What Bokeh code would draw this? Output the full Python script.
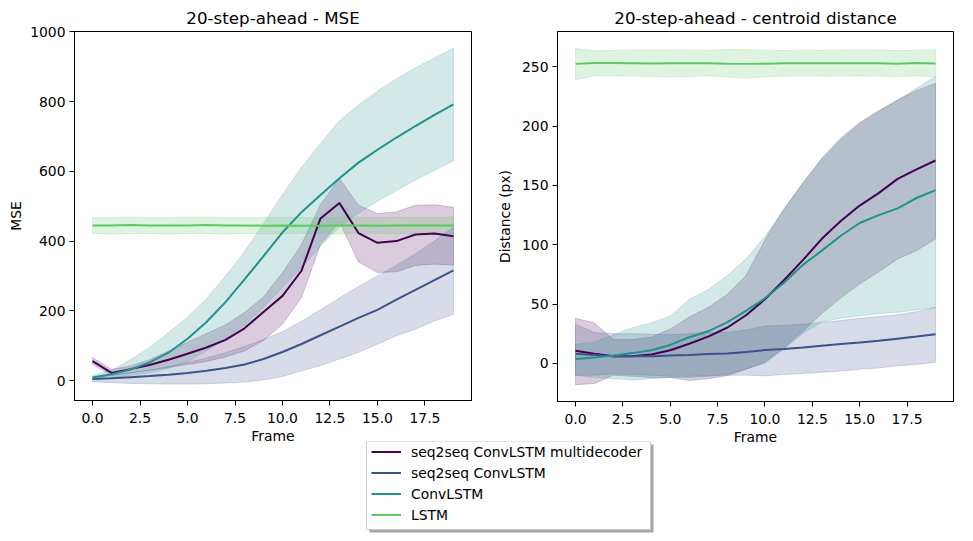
from bokeh.plotting import figure
from bokeh.layouts import column, row
from bokeh.models import Range1d, FixedTicker, Legend, LegendItem, NumeralTickFormatter
from bokeh.embed import file_html
from bokeh.resources import INLINE

FONT = "DejaVu Sans"
FS = "13.9px"

frames = list(range(20))
series_names = ["seq2seq ConvLSTM multidecoder", "seq2seq ConvLSTM", "ConvLSTM", "LSTM"]
colors = ["#440154", "#3b528b", "#21918c", "#5ec962"]

# ---------- 20-step-ahead MSE ----------
mse_md_mean = [56, 22, 33, 45, 60, 77, 95, 117, 150, 197, 243, 315, 465, 509, 423, 395, 400, 419, 422, 414]
mse_md_lo = [47, 15, 22, 30, 38, 46, 55, 68, 85, 115, 162, 238, 390, 455, 340, 310, 312, 330, 334, 331]
mse_md_hi = [66, 32, 42, 60, 85, 110, 135, 160, 195, 240, 310, 390, 505, 580, 503, 479, 484, 503, 504, 497]

mse_s2s_mean = [5, 7, 10, 13, 17, 22, 28, 36, 46, 62, 82, 105, 130, 155, 180, 203, 232, 260, 288, 316]
mse_s2s_lo = [-3, -6, -8, -9, -10, -10, -9, -7, -4, 2, 12, 28, 43, 62, 81, 105, 129, 148, 171, 190]
mse_s2s_hi = [10, 15, 22, 30, 40, 52, 65, 80, 98, 118, 140, 170, 203, 237, 270, 300, 331, 364, 401, 440]

mse_conv_mean = [9, 18, 32, 52, 80, 120, 168, 225, 290, 357, 425, 483, 532, 580, 625, 662, 697, 730, 762, 792]
mse_conv_lo = [3, 8, 15, 22, 35, 55, 85, 120, 160, 210, 267, 324, 385, 440, 480, 514, 545, 575, 603, 630]
mse_conv_hi = [15, 30, 60, 95, 138, 182, 235, 300, 370, 450, 533, 612, 680, 745, 790, 830, 865, 897, 925, 953]

mse_lstm_mean = [445, 445, 446, 445, 445, 445, 446, 445, 445, 444, 445, 444, 444, 445, 445, 444, 445, 445, 445, 445]
mse_lstm_lo = [422, 421, 422, 422, 421, 422, 422, 421, 422, 421, 421, 422, 422, 421, 421, 422, 421, 421, 422, 421]
mse_lstm_hi = [468, 468, 469, 468, 468, 469, 469, 468, 468, 468, 468, 468, 467, 468, 468, 468, 469, 468, 468, 469]

# ---------- 20-step-ahead centroid distance ----------
dist_md_mean = [10.5, 8, 6, 6, 7.5, 11, 16.5, 22.5, 30, 40.5, 54, 70, 87, 105, 120, 133, 143.5, 155.5, 163.5, 171]
dist_md_lo = [-18, -17, -10, -11, -12, -12, -14.5, -13, -10.5, -5, 1, 13, 27, 42, 55, 67, 77, 88, 95, 105]
dist_md_hi = [38, 34, 20, 20, 22, 29, 39, 47, 58, 74, 104, 130, 152, 173, 190, 203, 213, 222, 230, 236]

dist_s2s_mean = [8, 7, 6, 6, 6, 6.5, 7, 7.8, 8.3, 9.5, 11.2, 12, 13.3, 14.8, 16.2, 17.5, 19, 20.8, 22.6, 24.5]
dist_s2s_lo = [-10, -10, -9, -9.5, -10, -11, -11, -10.5, -10, -10, -10.5, -9.5, -8.5, -7.5, -6.5, -5, -4, -2, -1, 1]
dist_s2s_hi = [33, 26, 25, 25, 24.5, 24, 25, 26, 26, 28, 31.5, 32, 33, 34.5, 36, 38, 39.5, 41, 43.5, 47]

dist_conv_mean = [3.6, 4.8, 6.5, 8.6, 11, 15.5, 22, 27, 34.5, 44.3, 54.8, 68, 83, 95, 107.6, 118.3, 125, 130.7, 139.4, 146]
dist_conv_lo = [-10, -12, -13, -14, -13, -12, -12, -11, -9, -5, 0, 12, 25, 35, 38, 40, 42, 43, 45, 47]
dist_conv_hi = [16, 18, 24, 30, 34, 40, 54, 62, 74, 88, 107, 130, 152, 172, 188, 202, 212, 222, 232, 242]

dist_lstm_mean = [252.5, 253.3, 253.2, 253, 252.8, 253, 253.1, 253, 252.6, 252.5, 252.7, 253, 253.1, 253, 253, 253.1, 253, 252.7, 253.2, 252.8]
dist_lstm_lo = [239, 242.5, 242.5, 242, 241.7, 241.5, 241.8, 242.3, 241.4, 240.5, 241.5, 242.2, 242, 242.2, 242, 242.3, 242.1, 241.8, 242.4, 241.6]
dist_lstm_hi = [265.5, 263.5, 263.8, 264, 264.2, 264.3, 264, 263.8, 264.8, 264.5, 264, 263.8, 264, 263.9, 264, 264.3, 264.1, 263.7, 264, 264.2]

x_ticks = [0, 2.5, 5, 7.5, 10, 12.5, 15, 17.5]
mse_ticks = [0, 200, 400, 600, 800, 1000]
dist_ticks = [0, 50, 100, 150, 200, 250]


def style(p, xlabel, ylabel, yticks, ylabel_standoff):
    p.title.align = "center"
    p.title.text_font = FONT
    p.title.text_font_size = "16.7px"
    p.title.text_font_style = "normal"
    p.title.text_color = "black"
    p.title.standoff = 8
    p.outline_line_color = "black"
    p.outline_line_width = 1
    p.outline_line_alpha = 1
    p.grid.visible = False
    p.xaxis.ticker = FixedTicker(ticks=x_ticks)
    p.yaxis.ticker = FixedTicker(ticks=yticks)
    p.xaxis.formatter = NumeralTickFormatter(format="0.0")
    p.yaxis.formatter = NumeralTickFormatter(format="0")
    for ax in (p.xaxis[0], p.yaxis[0]):
        ax.axis_line_color = "black"
        ax.major_tick_line_color = "black"
        ax.major_tick_out = 5
        ax.major_tick_in = 0
        ax.minor_tick_line_color = None
        ax.major_label_text_font = FONT
        ax.major_label_text_font_size = FS
        ax.major_label_text_color = "black"
        ax.axis_label_text_font = FONT
        ax.axis_label_text_font_size = FS
        ax.axis_label_text_font_style = "normal"
        ax.axis_label_text_color = "black"
    p.xaxis.axis_label = xlabel
    p.yaxis.axis_label = ylabel
    p.xaxis.major_label_standoff = 7
    p.yaxis.major_label_standoff = 4
    p.xaxis.axis_label_standoff = 2
    p.yaxis.axis_label_standoff = ylabel_standoff


def draw(p, means, los, his):
    # bands first (below), then lines
    for lo, hi, c in zip(los, his, colors):
        xs = frames + frames[::-1]
        ys = list(hi) + list(lo)[::-1]
        p.patch(xs, ys, fill_color=c, fill_alpha=0.2, line_color=c, line_alpha=0.2, line_width=1)
    for m, c in zip(means, colors):
        p.line(frames, m, line_color=c, line_width=2)


p1 = figure(frame_width=397, frame_height=369, min_border_left=74, min_border_right=10,
            min_border_top=31, min_border_bottom=48,
            x_range=Range1d(-0.95, 19.95), y_range=Range1d(-57, 1001),
            title="20-step-ahead - MSE", toolbar_location=None, output_backend="svg")
style(p1, "Frame", "MSE", mse_ticks, 3)
draw(p1,
     [mse_md_mean, mse_s2s_mean, mse_conv_mean, mse_lstm_mean],
     [mse_md_lo, mse_s2s_lo, mse_conv_lo, mse_lstm_lo],
     [mse_md_hi, mse_s2s_hi, mse_conv_hi, mse_lstm_hi])

p2 = figure(frame_width=396, frame_height=370, min_border_left=76, min_border_right=4,
            min_border_top=29, min_border_bottom=49,
            x_range=Range1d(-0.95, 19.95), y_range=Range1d(-32.2, 279.8),
            title="20-step-ahead - centroid distance", toolbar_location=None, output_backend="svg")
style(p2, "Frame", "Distance (px)", dist_ticks, 6)
draw(p2,
     [dist_md_mean, dist_s2s_mean, dist_conv_mean, dist_lstm_mean],
     [dist_md_lo, dist_s2s_lo, dist_conv_lo, dist_lstm_lo],
     [dist_md_hi, dist_s2s_hi, dist_conv_hi, dist_lstm_hi])

# ---------- legend panel ----------
LW, LH = 957, 93
pl = figure(frame_width=LW, frame_height=LH, min_border=0, x_range=Range1d(0, LW), y_range=Range1d(0, LH),
            x_axis_location=None, y_axis_location=None, toolbar_location=None, output_backend="svg")
pl.grid.visible = False
pl.outline_line_color = None
pl.background_fill_alpha = 0
pl.border_fill_alpha = 0
pl.margin = (-8, 0, 0, 0)
# legend frame shadow and box (decoration)
pl.quad(left=[369], right=[653], bottom=[2], top=[90], fill_color="#4d4d4d", fill_alpha=0.5, line_color=None)
pl.quad(left=[366], right=[650], bottom=[5], top=[93], fill_color="white", line_color="#cccccc", line_width=1)
nan = float("nan")
items = []
for name, c in zip(series_names, colors):
    r = pl.line(x=[nan], y=[nan], line_color=c, line_width=2)
    items.append(LegendItem(label=name, renderers=[r]))
leg = Legend(items=items, location=(369, 9), orientation="vertical",
             padding=2, spacing=4, glyph_width=30, glyph_height=17, label_height=17,
             label_standoff=10, label_text_font=FONT, label_text_font_size=FS,
             label_text_color="black", border_line_alpha=0, background_fill_alpha=0,
             margin=0)
pl.add_layout(leg, "center")

layout = column(row(p1, p2), pl)
open("out.html", "w").write(file_html(layout, INLINE))
